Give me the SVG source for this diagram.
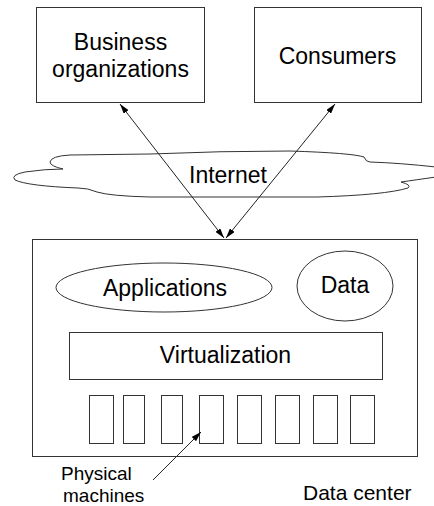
<svg xmlns="http://www.w3.org/2000/svg" width="434" height="506" viewBox="0 0 434 506">
<style>
.box{fill:#fff;stroke:#333;stroke-width:1}
.ln{fill:none;stroke:#222;stroke-width:1}
text{font-family:"Liberation Sans",Arial,sans-serif;fill:#000}
.t{font-size:23px;text-anchor:middle}
</style>
<defs>
<marker id="ah" viewBox="0 0 10 6" refX="10" refY="3" markerWidth="10" markerHeight="6" markerUnits="userSpaceOnUse" orient="auto-start-reverse">
<path d="M0,0 L10,3 L0,6 Z" fill="#000"/>
</marker>
</defs>
<rect width="434" height="506" fill="#fff"/>
<g id="internet">
<path class="box" d="M 50,162 Q 51,156 70,155 L 150,154 Q 220,151 290,151 Q 352,153 364,157 Q 366,162 370,162 Q 400,163 436,167 L 436,177 Q 415,180 401,182 Q 412,185 408,188 Q 385,195 317,197 L 150,197 Q 110,196 97,192 Q 88,188 78,188 Q 28,186 15,180 Q 10,175 25,172 Q 45,169 63,169 Q 50,166 50,162 Z"/>
<text class="t" x="228" y="183">Internet</text>
</g>
<g id="business">
<rect class="box" x="36.5" y="7.5" width="168" height="95"/>
<text class="t" x="120.5" y="50">Business</text>
<text class="t" x="120.5" y="77">organizations</text>
</g>
<g id="consumers">
<rect class="box" x="254.5" y="7.5" width="167" height="95"/>
<text class="t" x="337.5" y="64">Consumers</text>
</g>
<g id="datacenter">
<rect class="box" x="32.5" y="239.5" width="385" height="217"/>
<text x="303" y="500" style="font-size:21px">Data center</text>
</g>
<g id="applications">
<ellipse class="box" cx="164" cy="287.5" rx="108" ry="24.5"/>
<text class="t" x="165" y="296">Applications</text>
</g>
<g id="data">
<ellipse class="box" cx="345" cy="286" rx="48" ry="35"/>
<text class="t" x="345" y="293">Data</text>
</g>
<g id="virtualization">
<rect class="box" x="69.5" y="332.5" width="313" height="47"/>
<text class="t" x="225.5" y="363">Virtualization</text>
</g>
<g id="machines">
<rect class="box" x="89.5" y="395.5" width="24" height="48"/>
<rect class="box" x="123.5" y="395.5" width="21" height="48"/>
<rect class="box" x="161.5" y="395.5" width="21" height="48"/>
<rect class="box" x="199.5" y="395.5" width="24" height="48"/>
<rect class="box" x="237.5" y="395.5" width="24" height="48"/>
<rect class="box" x="275.5" y="395.5" width="24" height="48"/>
<rect class="box" x="313.5" y="395.5" width="24" height="48"/>
<rect class="box" x="350.5" y="395.5" width="24" height="48"/>
</g>
<g id="physical-label">
<text x="61" y="480" style="font-size:19px">Physical</text>
<text x="63" y="502" style="font-size:19px">machines</text>
</g>
<g id="connectors">
<line class="ln" x1="120" y1="104" x2="224" y2="238" marker-start="url(#ah)" marker-end="url(#ah)"/>
<line class="ln" x1="335" y1="104" x2="226" y2="238" marker-start="url(#ah)" marker-end="url(#ah)"/>
<line class="ln" x1="153" y1="480" x2="201" y2="432" marker-end="url(#ah)"/>
</g>
</svg>
